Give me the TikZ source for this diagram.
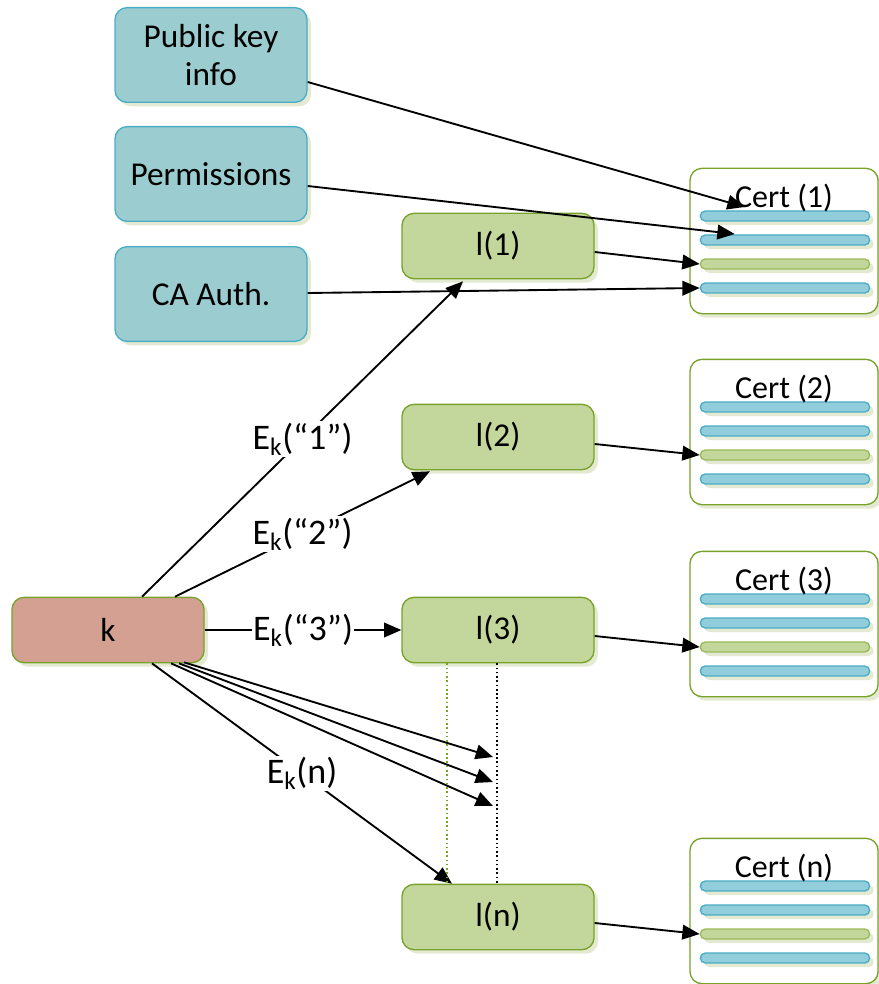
\documentclass[tikz,border=0pt]{standalone}
\usepackage{fontspec}
\setmainfont{Carlito}
\usetikzlibrary{arrows.meta,shadows,calc}
\definecolor{tealfill}{HTML}{9BCDD0}
\definecolor{tealline}{HTML}{4BACC6}
\definecolor{greenfill}{HTML}{C3D69B}
\definecolor{greenline}{HTML}{77A22B}
\definecolor{keyfill}{HTML}{D4A091}
\definecolor{shadowc}{HTML}{E4EAD2}
\definecolor{barteal}{HTML}{92CDDC}
\definecolor{bargreenline}{HTML}{9BBB59}
\tikzset{
	box/.style={rectangle, rounded corners=9pt, line width=1pt, inner sep=0.75pt, align=center, font=\fontsize{25}{28}\selectfont, drop shadow={shadow xshift=3pt, shadow yshift=-3pt, fill=shadowc, opacity=1}},
	infobox/.style={box, fill=tealfill, draw=tealline, minimum width=144pt, minimum height=71pt},
	lbox/.style={box, fill=greenfill, draw=greenline, minimum width=144pt, minimum height=49pt},
	keybox/.style={box, fill=keyfill, draw=greenline, minimum width=144pt, minimum height=49pt},
	certbox/.style={rectangle, rounded corners=9pt, draw=greenline, line width=1pt, fill=white, minimum width=141pt, minimum height=109pt, drop shadow={shadow xshift=3pt, shadow yshift=-3pt, fill=shadowc, opacity=1}},
	bar/.style={rectangle, rounded corners=3.7pt, line width=1pt, minimum width=127pt, minimum height=7.5pt, inner sep=0pt, drop shadow={shadow xshift=3pt, shadow yshift=-3pt, fill=shadowc, opacity=1}},
	tealbar/.style={bar, fill=barteal, draw=tealline},
	greenbar/.style={bar, fill=greenfill, draw=bargreenline},
	certtitle/.style={inner sep=0.75pt, font=\fontsize{24}{27}\selectfont},
	arr/.style={-{Triangle[length=13pt,width=11pt]}, line width=1.4pt},
	lbl/.style={fill=white, inner sep=1pt, font=\fontsize{27}{30}\selectfont}
}
\begin{document}
\begin{tikzpicture}[x=0.75pt,y=0.75pt,yscale=-1,xscale=1]
		\useasboundingbox (0,0) rectangle (878,984);
		\node[infobox] (pk) at (211,55) {Public key\\info};
		\node[infobox] (perm) at (211,174) {Permissions};
		\node[infobox] (ca) at (211,294) {CA Auth.};
		\node[keybox] (k) at (108,630) {k};
		\node[lbox] (l1) at (498,246) {l(1)};
		\node[lbox] (l2) at (498,437) {l(2)};
		\node[lbox] (l3) at (498,630) {l(3)};
		\node[lbox] (ln) at (498,917) {l(n)};
		\foreach \c/\y in {1/241,2/432,3/624,n/911}{
			\node[certbox] (c\c) at (784,\y) {};
			\node[tealbar] (b\c1) at (785,\y-25) {};
			\node[tealbar] (b\c2) at (785,\y-1) {};
			\node[greenbar] (b\c3) at (785,\y+23) {};
			\node[tealbar] (b\c4) at (785,\y+47) {};
		}
		\draw[arr] ($(pk.east)+(0,27)$) -- ($(b11.west)+(45,-9)$);
		\draw[arr] ($(perm.east)+(0,12)$) -- ($(b12.west)+(35,-6)$);
		\draw[arr] ($(l1.east)+(0,6)$) -- (b13.west);
		\draw[arr] ($(ca.east)+(0,-1)$) -- (b14.west);
		\draw[arr] ($(l2.east)+(0,7)$) -- (b23.west);
		\draw[arr] ($(l3.east)+(0,6)$) -- (b33.west);
		\draw[arr] ($(ln.east)+(0,6)$) -- (bn3.west);
		\foreach \c in {1,2,3,n}
			\node[certtitle] (t\c) at ($(c\c.north)+(0,30)$) {Cert (\c)};
		\draw[arr] ($(k.north)+(34,0)$) -- node[lbl] {E\textsubscript{k}(“1”)} ($(l1.south)+(-35,2)$);
		\draw[arr] ($(k.north)+(67,0)$) -- node[lbl] {E\textsubscript{k}(“2”)} ($(l2.south)+(-68,1)$);
		\draw[arr] (k.east) -- node[lbl] {E\textsubscript{k}(“3”)} (l3.west);
		\draw[arr] ($(k.south)+(44,0)$) -- node[lbl] {E\textsubscript{k}(n)} ($(ln.north)+(-46,0)$);
		\coordinate (f1) at (493,757);
		\coordinate (f2) at (493,782);
		\coordinate (f3) at (493,806);
		\draw[arr] ($(k.south)+(76,-1)$) -- (f1);
		\draw[arr] ($(k.south)+(71,0)$) -- (f2);
		\draw[arr] ($(k.south)+(63,0)$) -- (f3);
		\draw[dotted, line width=1.2pt, greenline] ($(l3.south)+(-51,0)$) -- ($(ln.north)+(-51,0)$);
		\draw[dotted, line width=1.2pt] ($(l3.south)+(-1,0)$) -- ($(ln.north)+(-1,0)$);
	\end{tikzpicture}
\end{document}
